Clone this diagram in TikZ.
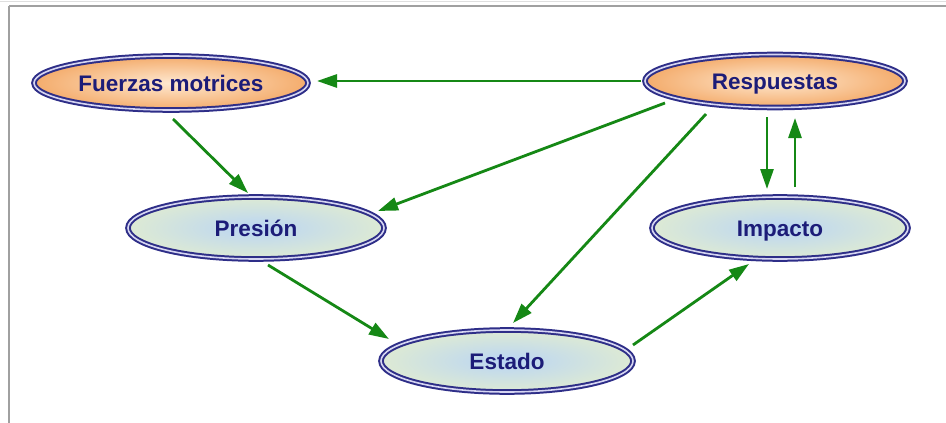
\documentclass[tikz,border=0pt]{standalone}
\usepackage{fontspec}
\setmainfont{Liberation Sans}
\usetikzlibrary{arrows.meta,shapes.geometric,calc}
\definecolor{navyline}{HTML}{2E2E88}
\definecolor{navytext}{HTML}{1C1C78}
\definecolor{gapcol}{HTML}{D6D6F2}
\definecolor{arrowgreen}{HTML}{158815}
\definecolor{orangein}{HTML}{FEE8D0}
\definecolor{orangeout}{HTML}{F4AC6C}
\definecolor{bluemid}{HTML}{BAD5F4}
\definecolor{bluepale}{HTML}{DDEAD4}
\definecolor{framegray}{HTML}{A0A0A0}
\tikzset{
  ellbase/.style={ellipse, draw=navyline, line width=2pt, double=gapcol, double distance=1.6pt,
    inner sep=0pt, text=navytext, text height=16pt, text depth=0pt,
    font=\fontsize{22.5}{26}\selectfont\bfseries},
  orangebox/.style={ellbase, shading=radial, inner color=orangein, outer color=orangeout},
  bluebox/.style={ellbase, shading=radial, inner color=bluemid, outer color=bluepale},
  conn/.style={draw=arrowgreen, line width=2.8pt, -{Triangle[length=20pt,width=13pt]}}
}
\begin{document}
\begin{tikzpicture}[x=1pt,y=-1pt]
\useasboundingbox (0,0) rectangle (946,423);
\fill[white] (0,0) rectangle (946,423);
% frame
\draw[gray!25, line width=1pt] (0,1.5) -- (946,1.5);
\draw[framegray, line width=1.6pt] (9,6) -- (946,6);
\draw[framegray, line width=1.6pt] (9,6) -- (9,423);
% nodes
\node[orangebox, minimum width=274pt, minimum height=54pt] (fm) at (171,83) {Fuerzas motrices};
\node[orangebox, minimum width=260pt, minimum height=53pt] (resp) at (775,81) {Respuestas};
\node[bluebox, minimum width=256pt, minimum height=62pt] (pres) at (256,228) {Presión};
\node[bluebox, minimum width=256pt, minimum height=62pt] (imp) at (780,228) {Impacto};
\node[bluebox, minimum width=252pt, minimum height=62pt] (est) at (507,361) {Estado};
% connectors
\draw[conn] ($(resp.center)+(-134,0)$) -- ($(fm.center)+(146,-2)$);
\draw[conn] ($(fm.center)+(2,36)$) -- ($(pres.center)+(-8,-35)$);
\draw[conn] ($(resp.center)+(-110,22)$) -- ($(pres.center)+(122,-17)$);
\draw[conn] ($(resp.center)+(-69,33)$) -- ($(est.center)+(6,-38)$);
\draw[conn] ($(resp.center)+(-8,36)$) -- ($(imp.center)+(-13,-39)$);
\draw[conn] ($(imp.center)+(15,-41)$) -- ($(resp.center)+(20,37)$);
\draw[conn] ($(pres.center)+(12,37)$) -- ($(est.center)+(-118,-22)$);
\draw[conn] ($(est.center)+(126,-16)$) -- ($(imp.center)+(-31,36)$);
\end{tikzpicture}
\end{document}
